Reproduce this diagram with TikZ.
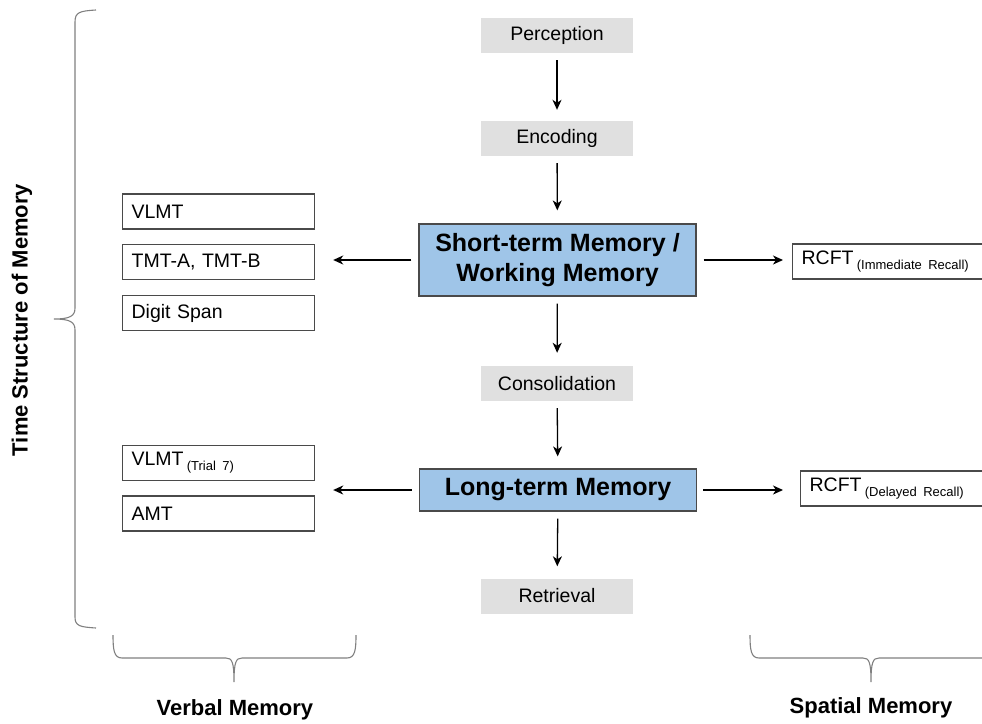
\documentclass[tikz,border=0pt]{standalone}
\usepackage{fontspec}
\setmainfont{Liberation Sans}
\usetikzlibrary{arrows.meta}
\definecolor{stagegray}{HTML}{E0E0E0}
\definecolor{memblue}{HTML}{9FC5E8}
\definecolor{edgegray}{HTML}{4A4A4A}
\definecolor{bracegray}{HTML}{808080}
\newcommand{\sublabel}[1]{\,{\fontsize{13}{15}\selectfont\raisebox{-5pt}{#1}}}
\tikzset{
  stage/.style={fill=stagegray, minimum width=152pt, minimum height=35pt, inner sep=0pt,
    font=\fontsize{19.5}{23}\selectfont},
  memory/.style={draw=edgegray, line width=1.2pt, fill=memblue, minimum width=277pt,
    inner sep=0pt, align=center, font=\fontsize{25}{30}\bfseries\selectfont},
  testbox/.style={draw=edgegray, line width=1.2pt, anchor=west, minimum height=35pt,
    inner xsep=9pt, inner ysep=0pt, align=left, font=\fontsize{19.5}{23}\selectfont},
  flow/.style={-{Stealth[length=10pt,width=9pt,inset=3pt]}, line width=1.3pt},
  bracket/.style={draw=bracegray, line width=1.1pt},
  heading/.style={font=\fontsize{22}{26}\bfseries\selectfont}
}
\begin{document}
\begin{tikzpicture}[x=1pt,y=-1pt]
\useasboundingbox (0,0) rectangle (982,723);
\clip (0,0) rectangle (982,723);

% stages of memory
\node[stage] (perc) at (557,35.5) {Perception};
\node[stage] (enc) at (557,138.5) {Encoding};
\node[memory, minimum height=72pt] (stm) at (557.5,260) {Short-term Memory /\\Working Memory};
\node[stage] (cons) at (557,383.5) {Consolidation};
\node[memory, minimum height=42pt] (ltm) at (558,490) {Long-term Memory};
\node[stage] (retr) at (557,596) {Retrieval};

% tests
\node[testbox, text width=174pt] (vlmt) at (122,211.5) {VLMT};
\node[testbox, text width=174pt] (tmt) at (122,262) {TMT-A, TMT-B};
\node[testbox, text width=174pt] (digit) at (122,313) {Digit Span};
\node[testbox, text width=174pt] (vlmt7) at (122,463) {VLMT\sublabel{(Trial 7)}};
\node[testbox, text width=174pt] (amt) at (122,513.5) {AMT};
\node[testbox, text width=215pt] (rcft1) at (792,261.5) {RCFT\sublabel{(Immediate Recall)}};
\node[testbox, text width=215pt] (rcft2) at (800,488.5) {RCFT\sublabel{(Delayed Recall)}};

% arrows
\draw[flow, shorten <=7pt, shorten >=11pt] (perc) -- (enc);
\draw[flow, shorten <=7pt, shorten >=13pt] (enc) -- (stm);
\draw[flow, shorten <=7pt, shorten >=13pt] (stm) -- (cons);
\draw[flow, shorten <=7pt, shorten >=12pt] (cons) -- (ltm);
\draw[flow, shorten <=7pt, shorten >=12pt] (ltm) -- (retr);
\draw[flow, shorten <=7pt, shorten >=18pt] (stm.west) -- (stm.west -| tmt.east);
\draw[flow, shorten <=7pt, shorten >=9pt] (stm.east) -- (stm.east -| rcft1.west);
\draw[flow, shorten <=7pt, shorten >=18pt] (ltm.west) -- (ltm.west -| vlmt7.east);
\draw[flow, shorten <=6pt, shorten >=17pt] (ltm.east) -- (ltm.east -| rcft2.west);

% braces
\draw[bracket] (96,10) .. controls (80,11) and (75,12) .. (75,22) -- (75,308)
  .. controls (75,316) and (70,319) .. (54,319) .. controls (70,319) and (75,322) .. (75,330)
  -- (75,617) .. controls (75,626) and (80,627) .. (96,628);
\draw[bracket] (113,635) .. controls (113,650) and (114,658) .. (122,658) -- (226,658)
  .. controls (232,658) and (234,662) .. (234,682) .. controls (234,662) and (236,658) .. (242,658)
  -- (347,658) .. controls (355,658) and (356,650) .. (356,635);
\draw[bracket] (750,635) .. controls (750,650) and (751,658) .. (759,658) -- (863,658)
  .. controls (869,658) and (871,662) .. (871,682) .. controls (871,662) and (873,658) .. (879,658)
  -- (990,658);
\node[heading, rotate=90] (timelab) at (22,320) {Time Structure of Memory};
\node[heading] (verblab) at (235,710) {Verbal Memory};
\node[heading] (spatlab) at (871,708) {Spatial Memory};
\end{tikzpicture}
\end{document}
